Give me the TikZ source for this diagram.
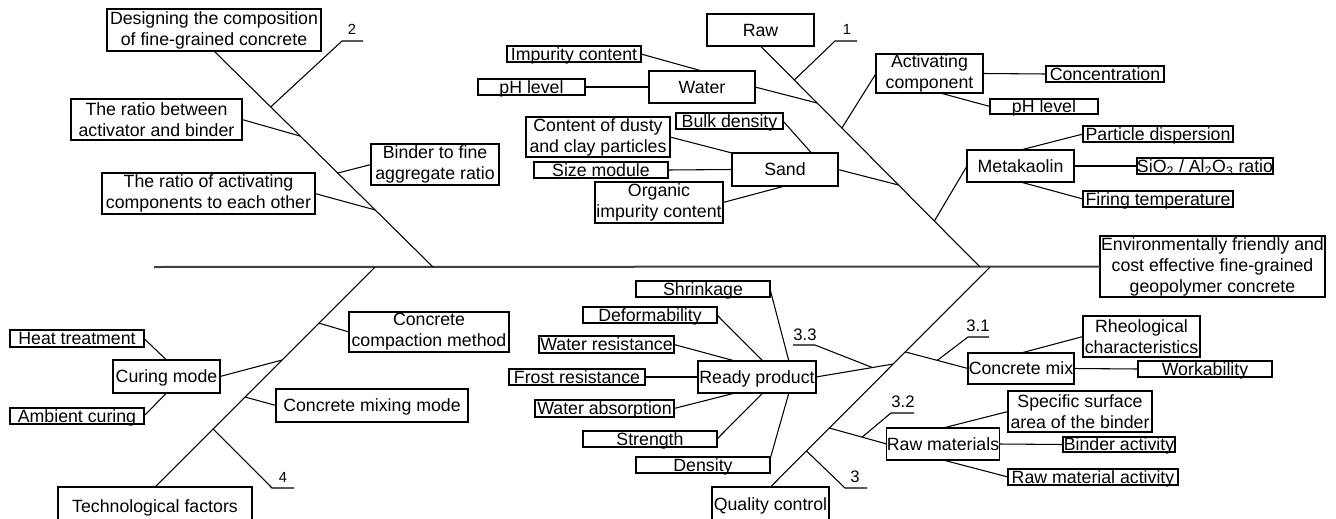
\documentclass[tikz,border=0pt]{standalone}
\usepackage{fontspec}
\setmainfont{Liberation Sans}
\usetikzlibrary{calc}
\newcommand\mybox[7][]{%
  \pgfmathsetmacro\myW{(#5-#3)*0.75}%
  \pgfmathsetmacro\myH{(#6-#4)*0.75}%
  \node[box,#1,minimum width=\myW pt,minimum height=\myH pt] (#2) at ({(#3+#5)/2},{(#4+#6)/2}) {#7};}
\begin{document}
\begin{tikzpicture}[x=0.75pt,y=-0.75pt,
  box/.style={draw, line width=0.9pt, inner sep=0pt, outer sep=0pt, align=center, font=\fontsize{13.3}{15.75}\selectfont},
  one/.style={text height=9.5pt, text depth=0pt},
  ln/.style={line width=0.8pt},
  spine/.style={line width=1.5pt, black!75},
  num/.style={inner sep=0pt, font=\fontsize{11}{13}\selectfont},
  numb/.style={inner sep=0pt, font=\fontsize{12.5}{14}\selectfont}]
\useasboundingbox (0,0) rectangle (1336,518);
\clip (0,0) rectangle (1336,518);

% ---------- boxes ----------
\mybox{design}{107}{9}{321}{51}{Designing the composition\\of fine-grained concrete}
\mybox{ratioab}{71}{99}{242}{140}{The ratio between\\activator and binder}
\mybox{binder}{371}{144}{499}{185}{Binder to fine\\aggregate ratio}
\mybox{ratioac}{102}{173}{315}{214}{The ratio of activating\\components to each other}
\mybox[one]{raw}{707}{14}{814}{46}{Raw}
\mybox[one]{imp}{507}{46}{641}{62}{Impurity content}
\mybox[one]{water}{649}{71}{755}{103}{Water}
\mybox[one]{ph1}{478}{79}{585}{95}{pH level}
\mybox[one]{bulk}{676}{113}{783}{129}{Bulk density}
\mybox{dusty}{526}{117}{670}{157}{Content of dusty\\and clay particles}
\mybox[one]{sand}{732}{153}{838}{186}{Sand}
\mybox[one]{sizem}{534}{162}{668}{178}{Size module}
\mybox{organic}{595}{182}{723}{223}{Organic\\impurity content}
\mybox{act}{876}{54}{983}{93}{Activating\\component}
\mybox[one]{conc}{1046}{66}{1164}{82}{Concentration}
\mybox[one]{ph2}{990}{99}{1098}{114}{pH level}
\mybox[one]{meta}{967}{150}{1074}{182}{Metakaolin}
\mybox[one]{partd}{1083}{126}{1233}{142}{Particle dispersion}
\mybox[one]{sio}{1138}{158}{1272}{174}{SiO\textsubscript{2} / Al\textsubscript{2}O\textsubscript{3} ratio}
\mybox[one]{firing}{1083}{191}{1233}{207}{Firing temperature}
\mybox{result}{1100}{236}{1325}{297}{Environmentally friendly and\\cost effective fine-grained\\geopolymer concrete}
\mybox{compact}{349}{312}{509}{352}{Concrete\\compaction method}
\mybox[one]{curing}{113}{360}{220}{393}{Curing mode}
\mybox[one]{heat}{10}{330}{144}{347}{Heat treatment}
\mybox[one]{ambient}{10}{408}{144}{424}{Ambient curing}
\mybox[one]{mixing}{276}{389}{468}{422}{Concrete mixing mode}
\mybox[one]{tech}{58}{487}{252}{525}{Technological factors}
\mybox[one]{qc}{712}{487}{829}{522}{Quality control}
\mybox[one]{shrink}{636}{281}{770}{297}{Shrinkage}
\mybox[one]{deform}{583}{307}{717}{323}{Deformability}
\mybox[one]{wres}{539}{336}{674}{353}{Water resistance}
\mybox[one]{frost}{509}{369}{645}{385}{Frost resistance}
\mybox[one]{wabs}{535}{400}{674}{417}{Water absorption}
\mybox[one]{strength}{583}{431}{717}{447}{Strength}
\mybox[one]{density}{636}{457}{770}{473}{Density}
\mybox[one]{ready}{698}{361}{816}{393}{Ready product}
\mybox[one]{cmix}{968}{353}{1074}{384}{Concrete mix}
\mybox{rheo}{1083}{316}{1200}{357}{Rheological\\characteristics}
\mybox[one]{work}{1138}{361}{1272}{377}{Workability}
\mybox[one]{rawm}{887}{428}{999}{460}{Raw materials}
\mybox{spec}{1008}{391}{1152}{432}{Specific surface\\area of the binder}
\mybox[one]{bact}{1063}{437}{1175}{452}{Binder activity}
\mybox[one]{rmact}{1008}{469}{1178}{485}{Raw material activity}

% ---------- spine ----------
\coordinate (sL) at (154,267);
\coordinate (s2) at (433,267);
\coordinate (s1) at (980,267);
\coordinate (s3) at (990,267);
\coordinate (s4) at (375,267);
\draw[spine] (sL) -- (result.west);

% ---------- main branches ----------
\draw[ln] (design.south) -- (s2);
\draw[ln] (raw.south) -- (s1);
\draw[ln] (s3) -- (qc.north);
\draw[ln] (s4) -- (tech.north);

% branch 2 points
\coordinate (b2n) at ($(design.south)!0.259!(s2)$);
\coordinate (b2a) at ($(design.south)!0.394!(s2)$);
\coordinate (b2b) at ($(design.south)!0.565!(s2)$);
\coordinate (b2c) at ($(design.south)!0.736!(s2)$);
% branch 1 points
\coordinate (b1n) at ($(raw.south)!0.154!(s1)$);
\coordinate (b1w) at ($(raw.south)!0.258!(s1)$);
\coordinate (b1a) at ($(raw.south)!0.371!(s1)$);
\coordinate (b1s) at ($(raw.south)!0.629!(s1)$);
\coordinate (b1m) at ($(raw.south)!0.792!(s1)$);
% branch 3 points
\coordinate (b3c) at ($(s3)!0.386!(qc.north)$);
\coordinate (b3r) at ($(s3)!0.441!(qc.north)$);
\coordinate (b3m) at ($(s3)!0.732!(qc.north)$);
\coordinate (b3n) at ($(s3)!0.836!(qc.north)$);
% branch 4 points
\coordinate (b4c) at ($(s4)!0.255!(tech.north)$);
\coordinate (b4u) at ($(s4)!0.423!(tech.north)$);
\coordinate (b4m) at ($(s4)!0.591!(tech.north)$);
\coordinate (b4n) at ($(s4)!0.736!(tech.north)$);

% ---------- branch 2 ----------
\draw[ln] (ratioab.east) -- (b2a);
\draw[ln] (binder.west) -- (b2b);
\draw[ln] (ratioac.east) -- (b2c);
\coordinate (u2a) at (342,41); \coordinate (u2b) at (363,41);
\node[num] (n2) at (352,29) {2};
\draw[ln] (u2b) -- (u2a) -- (b2n);

% ---------- branch 1 ----------
\coordinate (u1a) at (835,41); \coordinate (u1b) at (857,41);
\node[num] (n1) at (847,29) {1};
\draw[ln] (u1b) -- (u1a) -- (b1n);
\draw[ln] (water.east) -- (b1w);
\draw[ln] (imp.east) -- (water.north);
\draw[ln] (ph1.east) -- (water.west);
\draw[ln] (b1a) -- (act.west);
\draw[ln] (act.east) -- (conc.west);
\draw[ln] ($(act.south)!0.2!(act.south east)$) -- (ph2.west);
\draw[ln] (sand.east) -- (b1s);
\draw[ln] (bulk.east) -- ($(sand.north)!0.5!(sand.north east)$);
\draw[ln] (dusty.east) -- (sand.north west);
\draw[ln] (sizem.east) -- (sand.west);
\draw[ln] (organic.east) -- (sand.south);
\draw[ln] (b1m) -- (meta.west);
\draw[ln] (meta.north) -- (partd.west);
\draw[ln] (meta.east) -- (sio.west);
\draw[ln] (meta.south) -- (firing.west);

% ---------- branch 4 ----------
\draw[ln] (b4c) -- (compact.west);
\draw[ln] (b4u) -- (curing.east);
\draw[ln] (b4m) -- (mixing.west);
\draw[ln] (heat.east) -- (curing.north);
\draw[ln] (ambient.east) -- (curing.south);
\coordinate (u4a) at (272,488); \coordinate (u4b) at (294,488);
\node[num] (n4) at (283,477) {4};
\draw[ln] (u4b) -- (u4a) -- (b4n);

% ---------- branch 3 ----------
\coordinate (u3a) at (845,488); \coordinate (u3b) at (867,488);
\node[numb] (n3) at (855,477) {3};
\draw[ln] (u3b) -- (u3a) -- (b3n);
% 3.1 concrete mix
\draw[ln] (b3c) -- (cmix.west);
\coordinate (c31) at ($(b3c)!0.51!(cmix.west)$);
\coordinate (u31a) at (968,337); \coordinate (u31b) at (989,337);
\node[numb] (n31) at (978,326) {3.1};
\draw[ln] (u31b) -- (u31a) -- (c31);
\draw[ln] (cmix.north) -- (rheo.west);
\draw[ln] (cmix.east) -- (work.west);
% 3.3 ready product
\draw[ln] (b3r) -- (ready.east);
\coordinate (c33) at ($(b3r)!0.27!(ready.east)$);
\coordinate (u33a) at (793,345); \coordinate (u33b) at (815,345);
\node[numb] (n33) at (805,335) {3.3};
\draw[ln] (u33a) -- (u33b) -- (c33);
\draw[ln] (shrink.east) -- ($(ready.north)!0.54!(ready.north east)$);
\draw[ln] (deform.east) -- ($(ready.north)!0.1!(ready.north east)$);
\draw[ln] (wres.east) -- ($(ready.north)!0.37!(ready.north west)$);
\draw[ln] (frost.east) -- (ready.west);
\draw[ln] (wabs.east) -- ($(ready.south)!0.37!(ready.south west)$);
\draw[ln] (strength.east) -- ($(ready.south)!0.1!(ready.south east)$);
\draw[ln] ($(density.north east)!0.3!(density.east)$) -- ($(ready.south)!0.54!(ready.south east)$);
% 3.2 raw materials
\draw[ln] (b3m) -- (rawm.west);
\coordinate (c32) at ($(b3m)!0.57!(rawm.west)$);
\coordinate (u32a) at (891,413); \coordinate (u32b) at (914,413);
\node[numb] (n32) at (903,402) {3.2};
\draw[ln] (u32b) -- (u32a) -- (c32);
\draw[ln] (rawm.north) -- (spec.west);
\draw[ln] (rawm.east) -- (bact.west);
\draw[ln] (rawm.south) -- (rmact.west);
\end{tikzpicture}
\end{document}
